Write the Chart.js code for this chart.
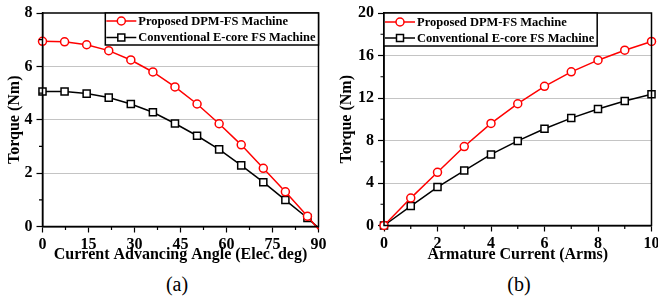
<!DOCTYPE html>
<html>
<head>
<meta charset="utf-8">
<script src="https://cdn.jsdelivr.net/npm/chart.js@4.4.0/dist/chart.umd.min.js"></script>
<style>
  body { margin: 0; background: #fff; width: 658px; height: 296px; overflow: hidden; position: relative; font-family: 'Liberation Serif', serif; }
  .panel { position: absolute; top: 0; width: 329px; height: 266px; }
  .cap { position: absolute; top: 273px; width: 80px; text-align: center; font-size: 20px; line-height: 23px; color: #000; }
</style>
</head>
<body>
<div class="panel" style="left:0"><canvas id="chartA"></canvas></div>
<div class="panel" style="left:329px"><canvas id="chartB"></canvas></div>
<div class="cap" style="left:137px">(a)</div>
<div class="cap" style="left:479px">(b)</div>
<script>
// series names
const seriesNames = ['Proposed DPM-FS Machine', 'Conventional E-core FS Machine'];

// (a) torque vs current advancing angle
const angles = [0, 7.2, 14.4, 21.6, 28.8, 36, 43.2, 50.4, 57.6, 64.8, 72, 79.2, 86.4, 90];
const angleDpm = [6.94, 6.92, 6.81, 6.59, 6.24, 5.79, 5.23, 4.59, 3.85, 3.06, 2.18, 1.30, 0.38, -0.10];
const angleEcore = [5.06, 5.06, 4.98, 4.83, 4.59, 4.28, 3.86, 3.40, 2.89, 2.29, 1.66, 0.99, 0.32, -0.05];
const angleAxis = { min: 0, max: 90, step: 15 };
const angleTorqueAxis = { min: 0, max: 8, step: 2 };

// (b) torque vs armature current
const currents = [0, 1, 2, 3, 4, 5, 6, 7, 8, 9, 10];
const currentDpm = [0, 2.58, 5.01, 7.43, 9.61, 11.46, 13.10, 14.46, 15.56, 16.50, 17.32];
const currentEcore = [0, 1.83, 3.62, 5.17, 6.69, 7.96, 9.10, 10.11, 10.96, 11.72, 12.35];
const currentAxis = { min: 0, max: 10, step: 2 };
const currentTorqueAxis = { min: 0, max: 20, step: 4 };

const FONT = "'Liberation Serif', 'Times New Roman', serif";
const RED = '#ff0000';
const BLACK = '#000000';

// box frame, minor ticks and the inset legend
const frameAndLegend = {
  id: 'frameAndLegend',
  afterDraw(chart, args, opts) {
    const { ctx, chartArea: a, scales } = chart;
    ctx.save();
    ctx.strokeStyle = BLACK;
    ctx.lineWidth = 1.5;
    ctx.strokeRect(a.left, a.top, a.right - a.left, a.bottom - a.top);

    // minor ticks halfway between major ones
    const x = scales.x, y = scales.y;
    ctx.lineWidth = 1.2;
    ctx.beginPath();
    for (let i = 0; i < x.ticks.length - 1; i++) {
      const px = x.getPixelForValue((x.ticks[i].value + x.ticks[i + 1].value) / 2);
      ctx.moveTo(px, a.bottom);
      ctx.lineTo(px, a.bottom + 3.5);
    }
    for (let i = 0; i < y.ticks.length - 1; i++) {
      const py = y.getPixelForValue((y.ticks[i].value + y.ticks[i + 1].value) / 2);
      ctx.moveTo(a.left, py);
      ctx.lineTo(a.left - 3.5, py);
    }
    ctx.stroke();

    // legend
    ctx.font = 'bold 12.5px ' + FONT;
    const sets = chart.data.datasets;
    const tw = Math.max(...sets.map(d => ctx.measureText(d.label).width));
    const w = 33 + tw + 3;
    const h = opts.height;
    const left = opts.align === 'right' ? a.right - w : a.left;
    ctx.fillStyle = '#fff';
    ctx.fillRect(left, a.top, w, h);
    ctx.lineWidth = 1.5;
    ctx.strokeStyle = BLACK;
    ctx.strokeRect(left, a.top, w, h);
    sets.forEach((d, i) => {
      const cy = a.top + opts.rows[i];
      const mx = left + 16;
      ctx.strokeStyle = d.borderColor;
      ctx.lineWidth = 1.5;
      ctx.beginPath();
      ctx.moveTo(left + 1, cy);
      ctx.lineTo(left + 31, cy);
      ctx.stroke();
      ctx.fillStyle = '#fff';
      ctx.beginPath();
      if (d.pointStyle === 'rect') {
        ctx.rect(mx - 3.5, cy - 3.5, 7, 7);
      } else {
        ctx.arc(mx, cy, 4, 0, Math.PI * 2);
      }
      ctx.fill();
      ctx.stroke();
      ctx.fillStyle = BLACK;
      ctx.textBaseline = 'middle';
      ctx.textAlign = 'left';
      ctx.fillText(d.label, left + 33, cy + 0.5);
    });
    ctx.restore();
  }
};

function makeChart(id, xs, dpm, ecore, xAxis, yAxis, xTitle, cfg) {
  const last = xs.length - 1;
  const pts = vals => vals.map((v, i) => ({ x: xs[i], y: v }));
  const radius = r => c => (cfg.hideLast && c.dataIndex === last ? 0 : r);
  const gridColor = c => (c.tick && (c.tick.value === yAxis.min || c.tick.value === yAxis.max) ? 'rgba(0,0,0,0)' : '#c4c4c4');

  return new Chart(document.getElementById(id), {
    type: 'line',
    data: {
      datasets: [
        {
          label: seriesNames[0],
          data: pts(dpm),
          borderColor: RED,
          borderWidth: 1.5,
          pointStyle: 'circle',
          pointRadius: radius(4),
          pointBackgroundColor: '#fff',
          pointBorderColor: RED,
          pointBorderWidth: 1.5,
          clip: false
        },
        {
          label: seriesNames[1],
          data: pts(ecore),
          borderColor: BLACK,
          borderWidth: 1.5,
          pointStyle: 'rect',
          pointRadius: radius(5),
          pointBackgroundColor: '#fff',
          pointBorderColor: BLACK,
          pointBorderWidth: 1.5,
          clip: false
        }
      ]
    },
    options: {
      responsive: true,
      maintainAspectRatio: false,
      animation: false,
      layout: { padding: { left: 0, top: 13, right: cfg.padRight, bottom: 0 } },
      plugins: {
        legend: { display: false },
        tooltip: { enabled: false },
        frameAndLegend: { align: cfg.legendAlign, height: cfg.legendHeight, rows: cfg.legendRows }
      },
      scales: {
        x: {
          type: 'linear',
          min: xAxis.min,
          max: xAxis.max,
          afterFit: s => { s.height = cfg.xHeight; s.paddingLeft = 0; s.paddingRight = 0; },
          ticks: { stepSize: xAxis.step, color: BLACK, padding: 3, font: { family: FONT, size: 16, weight: 'bold' } },
          grid: { drawOnChartArea: false, tickColor: BLACK, tickLength: 6, tickWidth: 1.2 },
          border: { color: BLACK, width: 1.5 },
          title: { display: true, text: xTitle, color: BLACK, padding: { top: 0, bottom: 1.4 }, font: { family: FONT, size: 16, weight: 'bold' } }
        },
        y: {
          min: yAxis.min,
          max: yAxis.max,
          afterFit: s => { s.width = cfg.yWidth; s.paddingTop = 0; s.paddingBottom = 0; },
          ticks: { stepSize: yAxis.step, color: BLACK, padding: 4, font: { family: FONT, size: 16, weight: 'bold' } },
          grid: { color: gridColor, lineWidth: 1, borderDash: [2, 2], tickBorderDash: [], tickColor: BLACK, tickLength: 6, tickWidth: 1.2 },
          border: { color: BLACK, width: 1.5 },
          title: { display: true, text: 'Torque (Nm)', color: BLACK, padding: { top: cfg.yTitlePad, bottom: 0 }, font: { family: FONT, size: 16, weight: 'bold' } }
        }
      }
    },
    plugins: [frameAndLegend]
  });
}

makeChart('chartA', angles, angleDpm, angleEcore, angleAxis, angleTorqueAxis,
  'Current Advancing Angle (Elec. deg)',
  { padRight: 10.5, yWidth: 42.5, xHeight: 39.5, yTitlePad: 5.4, hideLast: true,
    legendAlign: 'right', legendHeight: 32, legendRows: [8, 24.5] });

makeChart('chartB', currents, currentDpm, currentEcore, currentAxis, currentTorqueAxis,
  'Armature Current (Arms)',
  { padRight: 5.5, yWidth: 55, xHeight: 40.5, yTitlePad: 8.4, hideLast: false,
    legendAlign: 'left', legendHeight: 33, legendRows: [9, 25] });
</script>
</body>
</html>
